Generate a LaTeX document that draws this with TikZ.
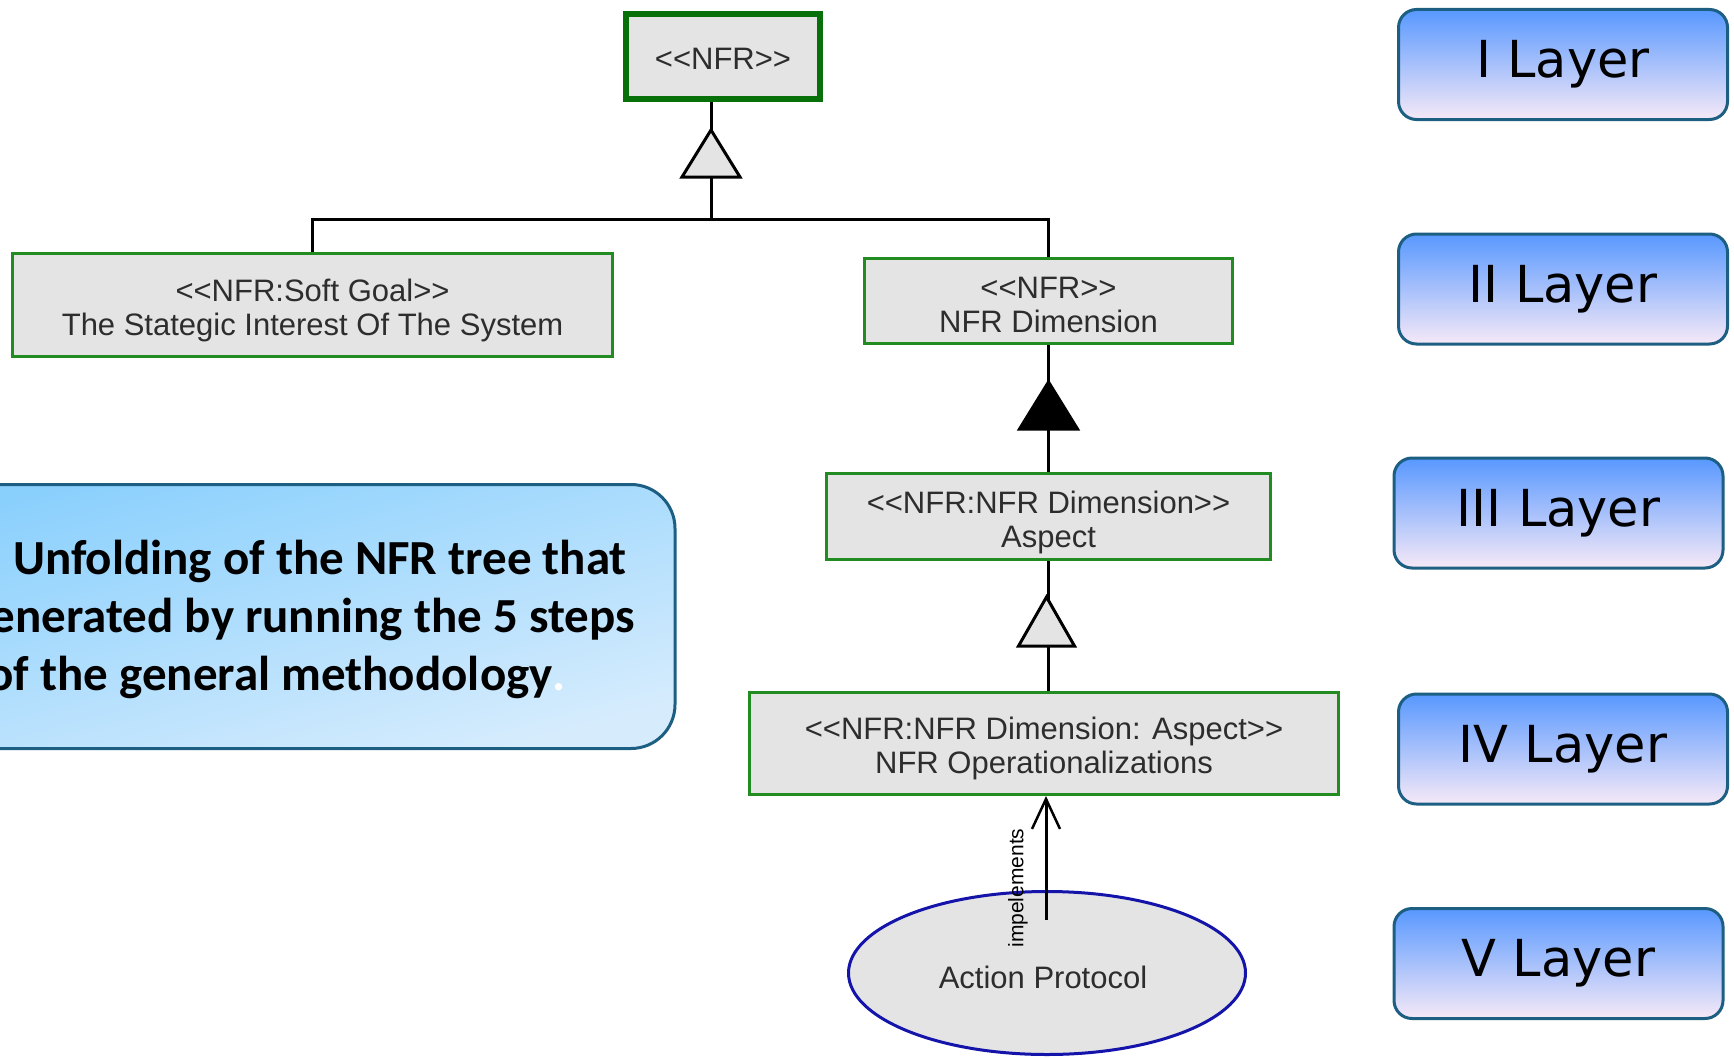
\documentclass[tikz,border=0pt]{standalone}
\usepackage{fontspec}
\setmainfont{Liberation Sans}
\newfontfamily\layerfont{DejaVu Sans}
\newfontfamily\notefont{Carlito}
\usetikzlibrary{arrows.meta,calc,shapes.geometric}

\definecolor{umlfill}{RGB}{228,228,228}
\definecolor{umlgreen}{RGB}{34,139,34}
\definecolor{rootgreen}{RGB}{8,112,8}
\definecolor{umltext}{RGB}{45,45,45}
\definecolor{ovalblue}{RGB}{20,20,170}
\definecolor{layertop}{RGB}{88,152,255}
\definecolor{layermid}{RGB}{128,192,255}
\definecolor{layerbot}{RGB}{246,233,247}
\definecolor{frameblue}{RGB}{28,95,130}
\definecolor{notetop}{RGB}{138,208,253}
\definecolor{notebot}{RGB}{214,236,253}

% stereotype brackets, kept apart so the font mapping leaves them as << and >>
\newcommand\stin{<\kern0pt<}
\newcommand\stout{>\kern0pt>}

\begin{document}
\begin{tikzpicture}[x=1pt,y=-1pt,
  umlbox/.style={draw=umlgreen, line width=3pt, fill=umlfill, inner sep=0pt},
  umllabel/.style={text=umltext, font=\fontsize{31}{34}\selectfont,
    align=center, inner sep=0pt},
  layerbox/.style={draw=frameblue, line width=3pt, rounded corners=18pt,
    top color=layertop, middle color=layermid, bottom color=layerbot,
    minimum width=329, minimum height=110, inner sep=0pt,
    font=\layerfont\fontsize{51}{58}\selectfont, text=black},
  notebox/.style={draw=frameblue, line width=3pt, rounded corners=44pt,
    top color=notetop, bottom color=notebot, shading angle=15, inner sep=0pt},
  notetext/.style={font=\notefont\bfseries\fontsize{49}{58}\selectfont,
    text=black, inner sep=0pt, anchor=base east},
  conn/.style={draw=black, line width=3pt},
  hollowtri/.style={draw=black, line width=3pt, fill=umlfill, line join=miter},
  solidtri/.style={draw=black, line width=3pt, fill=black, line join=miter},
  implarrow/.style={draw=black, line width=3pt,
    -{Straight Barb[length=30pt, width=28pt, line width=2.5pt]}}
]
\useasboundingbox (0,0) rectangle (1734,1057);
\clip (0,0) rectangle (1734,1057);

% explanatory note on the left
\node[notebox, minimum width=775, minimum height=264] (note) at (287.5,616.5) {};
\node[notetext] (line1) at (627,574) {Unfolding of the NFR tree that};
\node[notetext] (line2) at (635,632) {generated by running the 5 steps};
\node[notetext] (line3) at (566,690) {of the general methodology\textcolor{white}{.}};

% NFR tree: frames
\node[umlbox, draw=rootgreen, line width=6pt, minimum width=194, minimum height=85]
  (nfr) at (723,56.5) {};
\node[umlbox, minimum width=600, minimum height=103] (goal) at (312.5,305) {};
\node[umlbox, minimum width=368, minimum height=85] (dim) at (1048.5,301) {};
\node[umlbox, minimum width=444, minimum height=86] (asp) at (1048.5,516.5) {};
\node[umlbox, minimum width=589, minimum height=102] (ops) at (1044,743.5) {};
\node[ellipse, draw=ovalblue, line width=3pt, fill=umlfill,
  minimum width=397, minimum height=163, inner sep=0pt] (act) at (1047,973) {};

% NFR tree: names
\node[umllabel] (nfr-name) at ([yshift=-2pt]nfr.center) {\stin NFR\stout};
\node[umllabel] (goal-name) at ([yshift=-5pt]goal.center)
  {\stin NFR:Soft Goal\stout\\The Stategic Interest Of The System};
\node[umllabel] (dim-name) at ([yshift=-4pt]dim.center)
  {\stin NFR\stout\\NFR Dimension};
\node[umllabel] (asp-name) at ([yshift=-6pt]asp.center)
  {\stin NFR:NFR Dimension\stout\\Aspect};
\node[umllabel] (ops-name) at ([yshift=-5pt]ops.center)
  {\stin NFR:NFR Dimension: Aspect\stout\\NFR Operationalizations};
\node[umllabel] (act-name) at ([yshift=-4pt,xshift=-4pt]act.center) {Action Protocol};

% generalization of the two second-level requirements
\coordinate (j1) at (711,219);
\draw[conn] (goal.north) -- (goal.north |- j1) -- (j1 -| dim.north) -- (dim.north);
\draw[conn] (j1) -- (j1 |- nfr.south);
\draw[hollowtri] ($(j1 |- nfr.south)+(0,28)$) -- ++(-29,47) -- ++(58,0) -- cycle;

% composition: aspect into dimension
\draw[conn] (asp.north) -- (dim.south);
\draw[solidtri] ($(dim.south)+(0,37)$) -- ++(-29,47) -- ++(58,0) -- cycle;

% generalization: operationalizations into aspect
\draw[conn] (asp.south) -- (asp.south |- ops.north);
\draw[hollowtri] ($(asp.south)+(-2,36)$) -- ++(-28,49) -- ++(56,0) -- cycle;

% realization by the action protocol
\coordinate (implstart) at (1046,920);
\draw[implarrow] (implstart) -- (implstart |- ops.south);
\node[rotate=90, font=\fontsize{21}{24}\selectfont, text=black, inner sep=0pt]
  (impl) at (1018,888) {impelements};

% layer labels
\node[layerbox] (l1) at (1563,64.5) {I Layer};
\node[layerbox] (l2) at (1563,289) {II Layer};
\node[layerbox] (l3) at (1558.5,513) {III Layer};
\node[layerbox] (l4) at (1563,749) {IV Layer};
\node[layerbox] (l5) at (1558.5,963.5) {V Layer};
\end{tikzpicture}
\end{document}
